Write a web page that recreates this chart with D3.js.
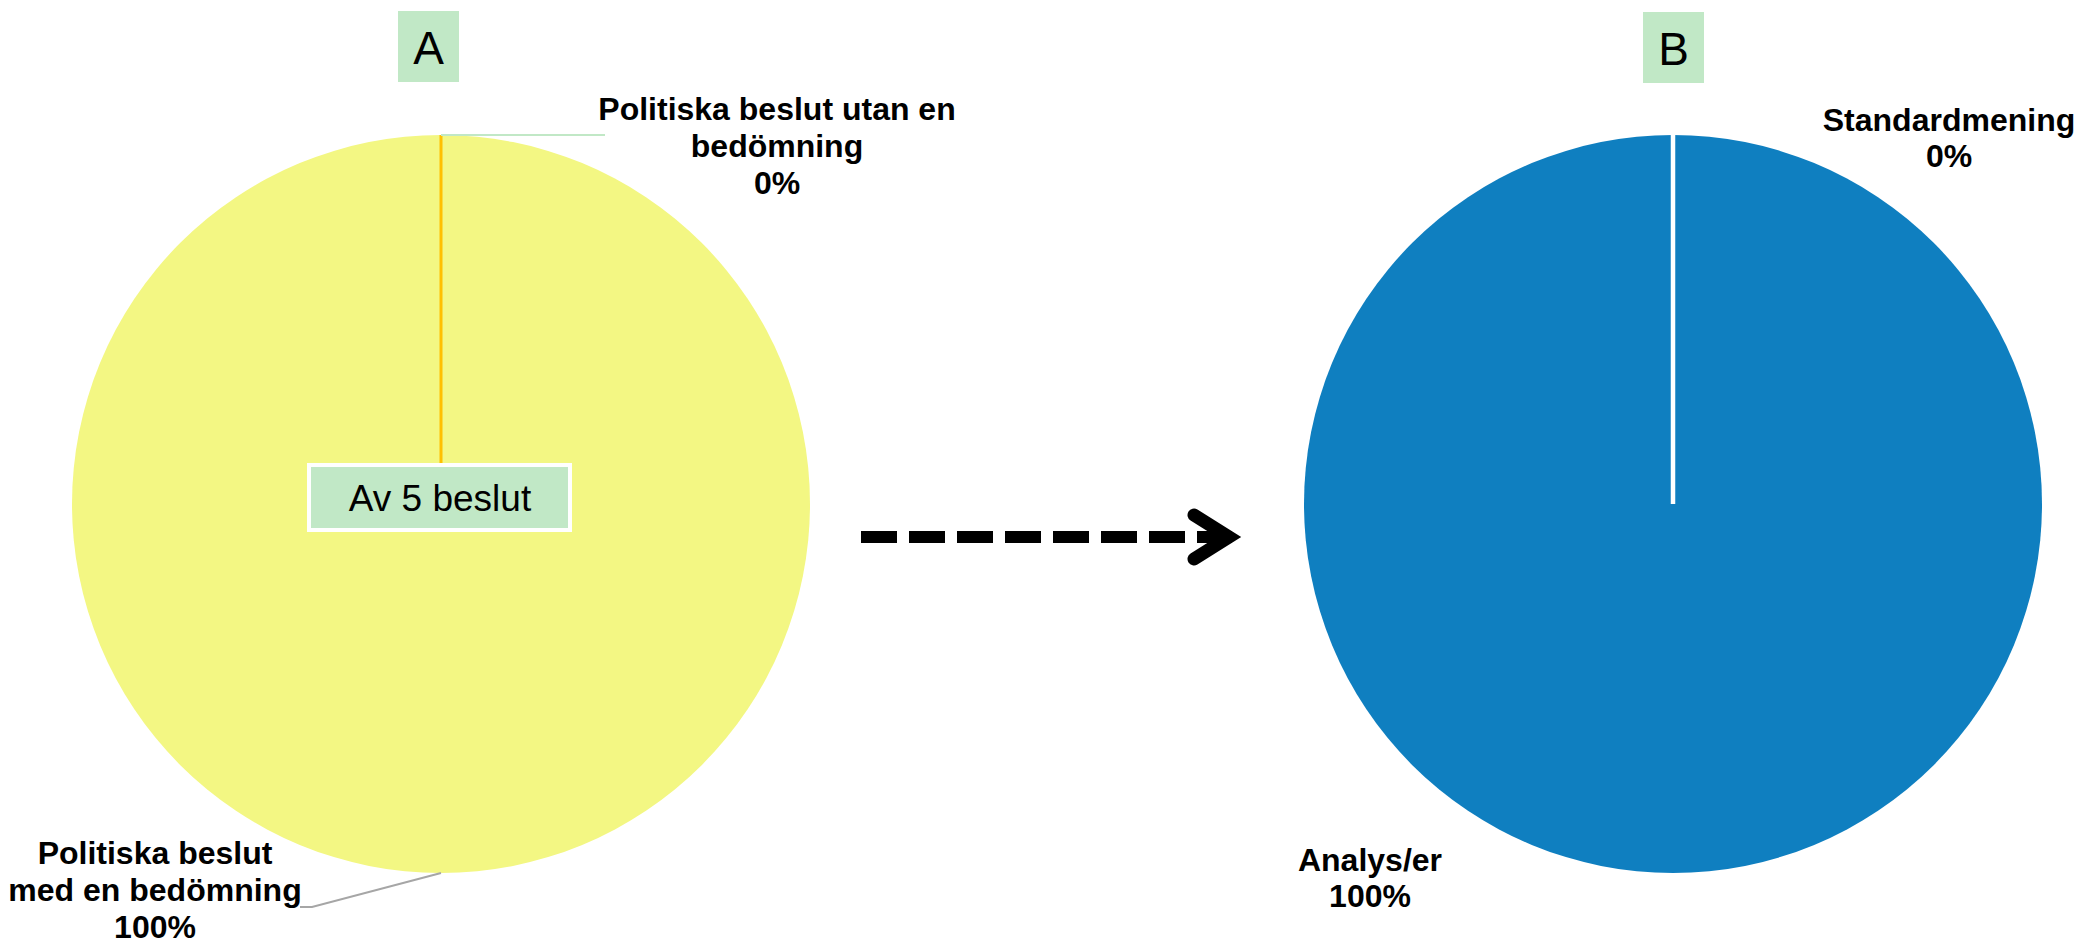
<!DOCTYPE html>
<html>
<head>
<meta charset="utf-8">
<script src="https://cdn.jsdelivr.net/npm/d3@7"></script>
<style>
  html, body { margin: 0; padding: 0; background: #ffffff; }
  svg { display: block; }
  text { font-family: "Liberation Sans", Arial, sans-serif; }
</style>
</head>
<body>
<script>
// ---- Data ----
const categoriesA = ["Politiska beslut med en bedömning", "Politiska beslut utan en bedömning"];
const valuesA = [100, 0];
const labelLinesA = [["Politiska beslut", "med en bedömning", "100%"], ["Politiska beslut utan en", "bedömning", "0%"]];
const categoriesB = ["Analys/er", "Standardmening"];
const valuesB = [100, 0];
const labelLinesB = [["Analys/er", "100%"], ["Standardmening", "0%"]];
const panelTitles = ["A", "B"];
const noteText = "Av 5 beslut";

// ---- Layout ----
const W = 2086, H = 951;
const R = 369;
const centerA = [441, 504], centerB = [1673, 504];
const colorsA = ["#f3f783", "#ffc000"];
const colorsB = ["#0f7fc0", "#ffffff"];
const green = "#c1e8c6";

const svg = d3.select("body").append("svg").attr("width", W).attr("height", H);

const pie = d3.pie().sort(null).value(d => d);
const arc = d3.arc().innerRadius(0).outerRadius(R);

function drawPie(center, values, colors, zeroStroke, zeroWidth) {
  const g = svg.append("g").attr("transform", `translate(${center[0]},${center[1]})`);
  const arcs = pie(values);
  g.selectAll("path.slice").data(arcs).join("path")
    .attr("class", "slice")
    .attr("d", arc)
    .attr("fill", (d, i) => colors[i])
    .attr("stroke", d => d.endAngle - d.startAngle === 0 ? zeroStroke : "none")
    .attr("stroke-width", zeroWidth);
  return { g, arcs };
}

const pa = drawPie(centerA, valuesA, colorsA, "#ffc000", 3);
const pb = drawPie(centerB, valuesB, colorsB, "#ffffff", 4.5);

function labelBlock(x, y0, lines, lh) {
  const t = svg.append("text").attr("text-anchor", "middle")
    .attr("font-size", 32).attr("font-weight", "bold").attr("fill", "#000");
  lines.forEach((l, i) => t.append("tspan").attr("x", x).attr("y", y0 + i * lh).text(l));
}

// Pie A labels + leader lines
{
  const [cx, cy] = centerA;
  const a0 = pa.arcs[0];
  const mid0 = (a0.startAngle + a0.endAngle) / 2;
  const px = cx + Math.sin(mid0) * R, py = cy - Math.cos(mid0) * R;
  svg.append("polyline")
    .attr("points", `${px},${py} ${cx - 129},${cy + 403} ${cx - 141},${cy + 403}`)
    .attr("fill", "none").attr("stroke", "#a6a6a6").attr("stroke-width", 2);
  labelBlock(cx - 286, cy + 360, labelLinesA[0], 37);
  const a1 = pa.arcs[1];
  const mid1 = (a1.startAngle + a1.endAngle) / 2;
  const qx = cx + Math.sin(mid1) * R, qy = cy - Math.cos(mid1) * R;
  svg.append("line").attr("x1", qx).attr("y1", qy).attr("x2", cx + 164).attr("y2", qy)
    .attr("stroke", green).attr("stroke-width", 2);
  labelBlock(cx + 336, 120, labelLinesA[1], 37);
}

// Pie B labels
{
  const [cx, cy] = centerB;
  labelBlock(cx - 303, 871, labelLinesB[0], 36);
  labelBlock(cx + 276, 131, labelLinesB[1], 36);
}

// Panel title boxes
const titleBoxes = [[398, 11, 61, 71], [1643, 12, 61, 71]];
panelTitles.forEach((t, i) => {
  const [x, y, w, h] = titleBoxes[i];
  svg.append("rect").attr("x", x).attr("y", y).attr("width", w).attr("height", h).attr("fill", green);
  svg.append("text").attr("x", x + w / 2).attr("y", y + 53).attr("text-anchor", "middle")
    .attr("font-size", 46).attr("fill", "#000").text(t);
});

// Note box in pie A
svg.append("rect").attr("x", 309).attr("y", 465).attr("width", 261).attr("height", 65)
  .attr("fill", green).attr("stroke", "#ffffff").attr("stroke-width", 4);
svg.append("text").attr("x", 440).attr("y", 511).attr("text-anchor", "middle")
  .attr("font-size", 37).attr("fill", "#000").text(noteText);

// Dashed arrow
svg.append("line").attr("x1", 861).attr("y1", 537).attr("x2", 1222).attr("y2", 537)
  .attr("stroke", "#000").attr("stroke-width", 12).attr("stroke-dasharray", "36,12");
svg.append("polyline").attr("points", "1194,515 1229,537 1194,559")
  .attr("fill", "none").attr("stroke", "#000").attr("stroke-width", 13)
  .attr("stroke-linecap", "round").attr("stroke-linejoin", "miter");
</script>
</body>
</html>
